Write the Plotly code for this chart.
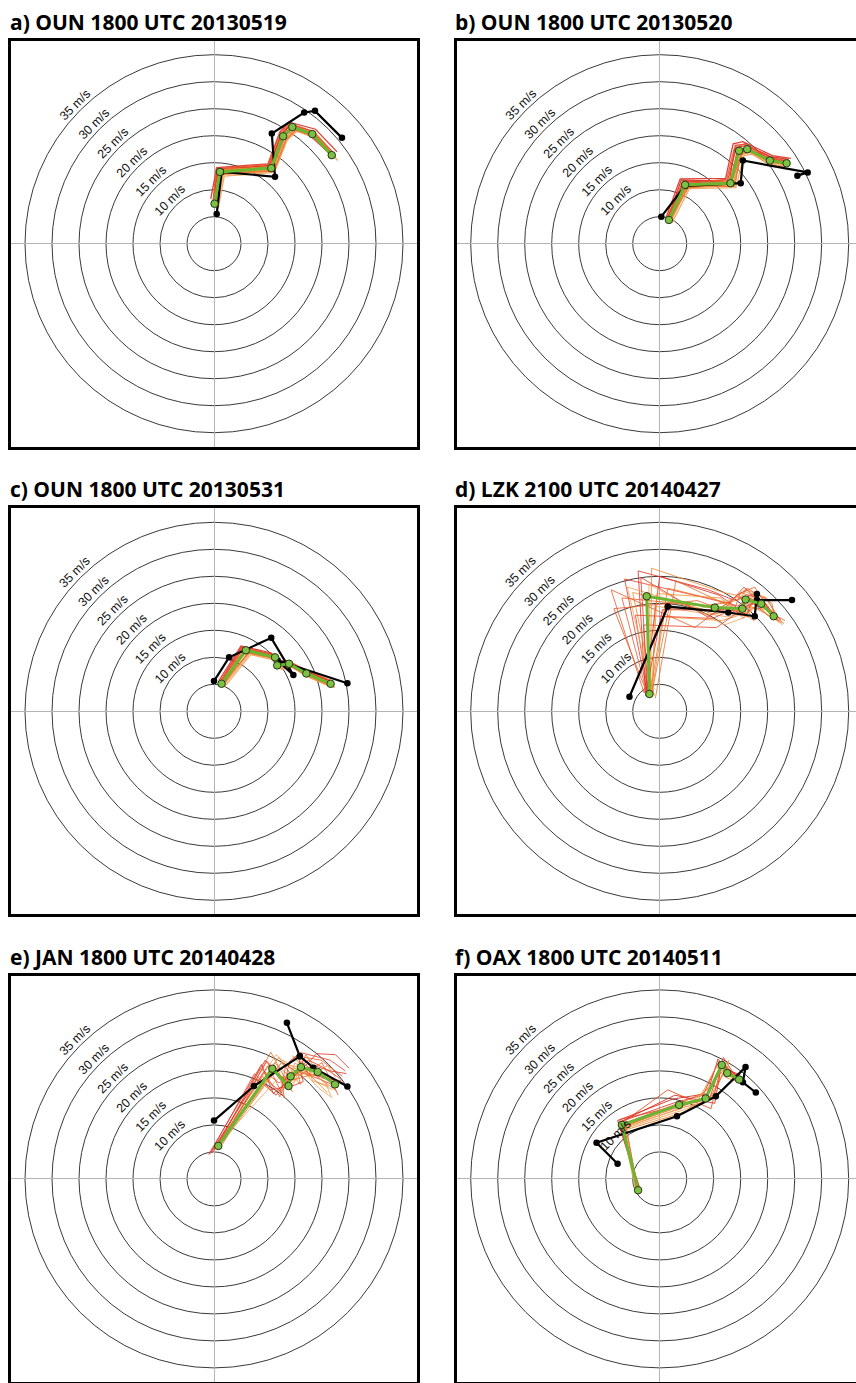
import plotly.graph_objects as go

# ---------------------------------------------------------------------------
# Hodograph data (u, v components in m/s)
# ---------------------------------------------------------------------------
TITLES = [
    "a) OUN 1800 UTC 20130519",
    "b) OUN 1800 UTC 20130520",
    "c) OUN 1800 UTC 20130531",
    "d) LZK 2100 UTC 20140427",
    "e) JAN 1800 UTC 20140428",
    "f) OAX 1800 UTC 20140511",
]

RING_SPEEDS = [5, 10, 15, 20, 25, 30, 35]
RING_LABELS = ["", "10 m/s", "15 m/s", "20 m/s", "25 m/s", "30 m/s", "35 m/s"]

# --- a) OUN 20130519 ---
OBS_A_U = [0.5, 1.4, 11.3, 10.7, 16.7, 18.7, 23.7]
OBS_A_V = [5.5, 13.3, 12.4, 20.4, 24.3, 24.6, 19.6]
MEAN_A_U = [0.1, 1.1, 10.6, 12.8, 14.5, 18.2, 21.8]
MEAN_A_V = [7.4, 13.3, 14.0, 19.9, 21.6, 20.3, 16.4]
MEMBERS_A_U = [
    [-0.3, 0.8, 10.2, 12.5, 14.3, 18.4, 22.3],
    [0.4, 1.5, 10.9, 13.1, 14.9, 18.5, 22.0],
    [-0.1, 0.6, 10.4, 12.4, 14.0, 17.8, 21.4],
    [0.6, 1.7, 11.0, 13.3, 15.0, 18.9, 22.6],
    [0.2, 1.0, 10.7, 12.9, 14.8, 18.0, 21.5],
    [-0.4, 1.3, 10.3, 12.6, 14.2, 18.6, 22.4],
    [0.3, 0.9, 10.8, 13.0, 14.6, 17.9, 21.2],
    [0.0, 1.4, 10.5, 12.7, 14.4, 18.3, 22.1],
    [-0.6, 0.5, 10.0, 12.2, 13.9, 18.8, 22.8],
    [0.8, 1.9, 11.2, 13.5, 15.3, 19.1, 22.9],
    [-0.2, 0.4, 10.1, 12.3, 14.1, 17.6, 21.0],
    [0.5, 1.6, 11.1, 13.4, 15.2, 18.7, 22.5],
]
MEMBERS_A_V = [
    [7.0, 13.6, 14.5, 20.3, 22.1, 20.8, 16.6],
    [7.8, 13.0, 13.6, 19.5, 21.2, 19.8, 15.9],
    [8.1, 13.9, 14.4, 20.2, 21.9, 20.9, 17.0],
    [6.9, 12.8, 13.4, 19.4, 21.1, 19.9, 15.8],
    [7.5, 13.5, 14.3, 20.4, 22.0, 20.4, 16.8],
    [7.3, 13.1, 13.8, 19.6, 21.5, 20.6, 16.2],
    [6.8, 13.4, 14.1, 19.8, 21.4, 19.9, 16.9],
    [7.7, 13.7, 14.2, 20.0, 21.8, 20.7, 16.1],
    [8.3, 14.1, 14.8, 20.7, 22.5, 21.2, 17.0],
    [6.6, 12.5, 13.2, 19.1, 20.8, 19.5, 15.4],
    [7.2, 13.8, 14.7, 20.6, 22.3, 20.6, 17.2],
    [8.0, 12.9, 13.5, 19.3, 21.0, 20.1, 16.0],
]

# --- b) OUN 20130520 ---
OBS_B_U = [0.3, 4.7, 15.0, 15.4, 27.4, 25.5]
OBS_B_V = [5.0, 10.7, 11.2, 15.4, 13.2, 12.6]
MEAN_B_U = [1.7, 4.7, 13.1, 14.7, 16.2, 20.4, 23.5]
MEAN_B_V = [4.4, 10.9, 11.2, 17.2, 17.5, 15.4, 14.9]
MEMBERS_B_U = [
    [1.4, 4.2, 12.6, 14.2, 16.0, 20.8, 24.0],
    [2.0, 5.3, 13.6, 15.2, 16.6, 20.1, 23.2],
    [1.5, 4.0, 12.9, 14.0, 15.7, 20.6, 23.9],
    [2.1, 5.1, 13.4, 15.4, 17.0, 21.0, 23.4],
    [1.6, 4.6, 12.4, 13.8, 15.9, 19.8, 23.0],
    [1.9, 4.9, 13.9, 15.0, 16.4, 20.5, 24.1],
    [1.3, 4.4, 13.2, 14.5, 16.1, 20.9, 23.6],
    [1.8, 5.0, 12.8, 15.1, 16.8, 20.2, 23.3],
    [1.2, 3.8, 12.2, 13.6, 15.4, 20.9, 24.3],
    [2.3, 5.5, 14.1, 15.6, 17.2, 21.2, 23.1],
    [1.1, 4.3, 13.0, 14.4, 16.3, 19.7, 22.8],
    [2.2, 5.2, 13.3, 15.3, 16.9, 21.3, 24.2],
]
MEMBERS_B_V = [
    [4.0, 11.4, 11.8, 17.9, 18.1, 15.9, 15.3],
    [4.8, 10.4, 10.7, 16.6, 16.9, 14.8, 14.3],
    [4.7, 11.8, 11.5, 18.2, 18.4, 16.1, 15.6],
    [4.1, 10.5, 10.9, 16.8, 17.0, 15.0, 14.6],
    [4.6, 11.1, 11.9, 17.6, 18.6, 15.9, 15.4],
    [4.2, 10.8, 10.6, 16.9, 17.3, 15.1, 14.5],
    [4.4, 11.5, 11.3, 17.5, 17.7, 15.6, 15.1],
    [4.5, 10.6, 11.6, 16.5, 17.0, 15.2, 14.8],
    [4.9, 12.0, 12.1, 18.5, 18.9, 16.3, 15.8],
    [3.9, 10.2, 10.4, 16.3, 16.6, 14.6, 14.1],
    [4.3, 11.2, 11.0, 17.4, 17.8, 15.7, 15.0],
    [4.9, 10.3, 11.4, 17.0, 17.2, 15.3, 14.9],
]

# --- c) OUN 20130531 ---
OBS_C_U = [0.0, 2.8, 10.6, 14.7, 11.8, 24.7]
OBS_C_V = [5.6, 10.0, 13.6, 6.7, 9.4, 5.2]
MEAN_C_U = [1.4, 5.9, 11.3, 11.7, 13.9, 17.1, 21.6]
MEAN_C_V = [5.1, 11.3, 10.0, 8.5, 8.8, 7.0, 5.1]
MEMBERS_C_U = [
    [1.2, 5.4, 11.0, 11.4, 13.6, 17.4, 22.0],
    [1.7, 6.3, 11.7, 12.1, 14.3, 16.9, 21.3],
    [1.0, 5.1, 10.9, 11.3, 13.5, 16.8, 21.2],
    [1.8, 6.6, 11.8, 12.2, 14.4, 17.6, 22.3],
    [1.5, 5.7, 11.5, 11.9, 14.0, 17.3, 21.8],
    [1.1, 6.0, 11.1, 11.5, 13.8, 16.7, 21.5],
    [1.6, 5.6, 10.8, 11.6, 13.7, 17.5, 21.9],
    [1.3, 6.2, 11.6, 12.0, 14.1, 17.0, 21.4],
    [0.9, 5.0, 10.6, 11.1, 13.3, 16.6, 21.0],
    [1.9, 6.8, 12.0, 12.4, 14.6, 17.8, 22.4],
    [1.4, 5.3, 11.4, 11.8, 13.9, 17.2, 21.7],
    [1.2, 6.4, 11.2, 11.6, 13.8, 16.9, 21.6],
]
MEMBERS_C_V = [
    [5.4, 11.6, 10.5, 8.9, 9.2, 7.4, 5.4],
    [4.8, 10.9, 9.6, 8.0, 8.4, 6.6, 4.7],
    [5.3, 11.9, 10.4, 8.8, 9.0, 7.3, 5.6],
    [4.9, 10.7, 9.5, 8.1, 8.3, 6.5, 4.6],
    [4.6, 11.0, 10.2, 8.6, 8.6, 6.8, 4.9],
    [5.6, 11.7, 9.8, 8.3, 9.1, 7.2, 5.3],
    [5.0, 11.2, 10.6, 9.0, 8.7, 6.7, 5.0],
    [5.2, 11.4, 9.7, 8.2, 8.9, 7.1, 5.5],
    [5.7, 12.1, 10.8, 9.2, 9.4, 7.6, 5.8],
    [4.5, 10.5, 9.3, 7.8, 8.1, 6.3, 4.4],
    [5.5, 11.8, 10.3, 8.7, 9.3, 7.5, 5.7],
    [4.7, 10.8, 9.9, 8.4, 8.5, 6.9, 4.8],
]

# --- d) LZK 20140427 ---
OBS_D_U = [-5.6, 1.5, 12.7, 17.6, 18.0, 18.0, 24.5]
OBS_D_V = [2.7, 19.4, 18.3, 17.6, 21.7, 20.6, 20.6]
MEAN_D_U = [-1.9, -2.4, 10.2, 15.3, 15.9, 18.8, 21.1]
MEAN_D_V = [3.2, 21.3, 19.2, 19.0, 20.7, 19.9, 17.6]
MEMBERS_D_U = [
    [-2.2, -6.5, 8.5, 14.5, 16.8, 19.5, 21.5],
    [-1.5, 0.8, 11.5, 16.0, 15.2, 18.0, 22.0],
    [-2.6, -4.0, 9.0, 14.0, 17.5, 20.0, 20.8],
    [-1.2, -1.0, 12.5, 17.0, 16.5, 19.0, 22.5],
    [-2.0, -8.5, 7.0, 13.5, 15.0, 18.5, 21.0],
    [-1.8, 1.5, 13.0, 15.5, 17.0, 20.5, 23.0],
    [-2.4, -3.0, 10.5, 16.5, 14.5, 17.5, 20.5],
    [-1.0, -5.0, 9.5, 15.0, 16.0, 19.8, 21.8],
    [-2.8, 0.0, 11.0, 14.8, 17.8, 18.2, 20.0],
    [-1.6, -2.0, 12.0, 16.8, 15.5, 19.2, 22.8],
    [-2.3, -7.0, 8.0, 13.0, 16.2, 20.8, 21.2],
    [-1.4, 2.0, 10.0, 15.8, 17.2, 18.6, 21.6],
    [-2.1, -4.5, 9.8, 15.2, 16.6, 19.6, 22.2],
    [-1.7, -1.5, 11.8, 14.2, 15.8, 17.8, 20.6],
    [-2.5, 0.5, 12.8, 16.2, 16.9, 20.2, 22.4],
    [-1.3, -6.0, 7.5, 13.8, 15.4, 18.9, 21.0],
    [-2.9, -9.0, 6.5, 14.8, 17.6, 20.6, 23.2],
    [-0.8, 3.0, 13.5, 17.5, 16.0, 19.4, 21.4],
    [-2.2, -3.5, 8.8, 12.5, 15.6, 17.2, 20.2],
    [-1.5, -0.5, 11.2, 15.6, 18.2, 19.9, 22.6],
]
MEMBERS_D_V = [
    [3.0, 24.5, 21.0, 19.5, 21.5, 20.2, 17.0],
    [3.5, 17.5, 16.8, 18.2, 20.0, 19.0, 16.8],
    [2.8, 26.0, 22.5, 20.5, 21.8, 19.5, 18.0],
    [3.6, 19.5, 17.5, 18.5, 20.9, 19.6, 16.5],
    [2.5, 19.0, 20.5, 18.0, 22.0, 20.8, 18.2],
    [3.3, 22.8, 20.0, 17.2, 19.2, 18.8, 16.2],
    [3.9, 16.0, 15.5, 19.8, 21.2, 20.5, 18.5],
    [2.9, 22.0, 18.5, 21.0, 22.5, 21.0, 17.3],
    [3.4, 25.0, 21.5, 18.8, 20.2, 19.2, 17.8],
    [2.6, 23.5, 16.0, 17.8, 19.5, 18.5, 16.0],
    [3.1, 21.0, 19.5, 20.2, 22.8, 20.0, 17.5],
    [3.7, 20.5, 18.0, 19.0, 20.5, 19.8, 17.2],
    [3.2, 17.8, 17.2, 19.6, 21.0, 19.4, 16.6],
    [2.7, 26.5, 22.0, 21.5, 22.2, 21.2, 18.6],
    [3.8, 18.8, 18.8, 18.0, 20.0, 19.0, 17.0],
    [3.0, 23.0, 19.0, 20.8, 21.4, 20.6, 17.9],
    [3.4, 22.5, 15.5, 21.8, 23.0, 18.2, 16.8],
    [2.4, 24.2, 19.2, 16.8, 19.0, 21.2, 18.4],
    [4.0, 24.8, 17.5, 19.5, 23.0, 21.6, 18.8],
    [3.1, 21.8, 21.0, 17.6, 19.8, 17.8, 16.4],
]

# --- e) JAN 20140428 ---
OBS_E_U = [0.0, 7.4, 15.9, 13.5, 15.9, 18.4, 24.7]
OBS_E_V = [10.8, 17.2, 22.7, 28.9, 22.7, 20.6, 17.1]
MEAN_E_U = [0.8, 10.8, 13.8, 14.2, 16.1, 19.2, 22.4]
MEAN_E_V = [6.1, 20.4, 17.2, 19.0, 20.7, 19.8, 17.5]
MEMBERS_E_U = [
    [0.2, 9.0, 12.5, 15.0, 17.5, 20.5, 23.5],
    [1.4, 12.0, 14.8, 13.5, 15.0, 18.0, 21.0],
    [-0.5, 8.0, 11.5, 14.5, 18.5, 21.5, 24.5],
    [1.0, 11.5, 15.5, 16.0, 14.5, 19.0, 22.0],
    [0.5, 10.0, 13.0, 12.5, 16.5, 20.0, 23.0],
    [1.8, 12.5, 16.0, 15.5, 17.0, 18.5, 21.5],
    [-0.8, 7.5, 10.5, 13.0, 15.5, 19.5, 23.0],
    [0.9, 11.0, 14.0, 14.8, 18.0, 21.0, 22.5],
    [0.0, 9.5, 13.5, 16.5, 15.8, 17.5, 24.0],
    [1.2, 12.2, 15.0, 13.8, 17.2, 20.8, 21.8],
    [0.4, 8.5, 12.0, 15.2, 16.8, 19.8, 23.8],
    [1.6, 10.5, 14.5, 12.8, 15.2, 18.8, 22.8],
    [-0.3, 9.8, 13.2, 14.0, 16.0, 21.5, 24.3],
    [0.7, 11.8, 12.8, 15.8, 17.8, 18.2, 21.2],
    [-1.0, 8.8, 11.0, 16.8, 19.0, 22.5, 25.0],
    [1.5, 12.8, 15.8, 14.6, 16.4, 19.4, 21.6],
    [0.3, 9.2, 12.2, 13.2, 15.0, 20.2, 23.6],
    [1.1, 11.2, 14.2, 15.0, 17.6, 17.8, 22.0],
]
MEMBERS_E_V = [
    [5.5, 19.0, 16.0, 20.0, 22.0, 20.5, 18.5],
    [6.6, 22.5, 18.5, 17.8, 21.5, 19.0, 16.0],
    [5.0, 18.5, 15.5, 19.5, 21.0, 20.0, 19.5],
    [6.8, 23.0, 19.5, 21.5, 22.8, 18.0, 16.5],
    [5.8, 21.0, 15.0, 18.5, 19.5, 21.5, 15.5],
    [7.0, 21.5, 17.5, 19.8, 23.0, 20.8, 18.0],
    [4.6, 19.5, 16.5, 17.0, 20.0, 18.5, 17.0],
    [6.2, 20.0, 18.0, 20.5, 18.8, 21.0, 18.8],
    [5.3, 22.0, 16.8, 18.0, 21.8, 19.5, 17.8],
    [6.9, 19.0, 19.0, 21.0, 20.5, 17.5, 15.0],
    [5.7, 20.5, 17.8, 19.2, 22.5, 22.0, 19.0],
    [6.4, 23.5, 16.2, 18.2, 19.8, 19.2, 16.2],
    [4.9, 21.8, 18.2, 21.8, 23.4, 22.0, 20.0],
    [6.0, 20.8, 17.0, 19.0, 20.8, 18.2, 17.2],
    [4.5, 21.2, 15.8, 20.8, 23.2, 23.0, 20.5],
    [7.2, 22.0, 20.0, 17.5, 20.0, 16.8, 15.2],
    [5.6, 19.8, 15.2, 20.6, 22.6, 18.6, 18.2],
    [6.5, 21.5, 18.8, 18.4, 19.2, 20.6, 17.8],
]

# --- f) OAX 20140511 ---
OBS_F_U = [-7.8, -11.7, 3.2, 10.4, 15.9, 15.4, 17.8]
OBS_F_V = [2.8, 6.7, 11.6, 15.3, 20.7, 17.9, 16.0]
MEAN_F_U = [-4.0, -7.0, 3.6, 8.5, 11.5, 12.5, 14.7]
MEAN_F_V = [-2.1, 10.0, 13.7, 14.9, 21.1, 19.6, 18.4]
MEMBERS_F_U = [
    [-3.6, -7.5, 3.0, 8.0, 11.0, 12.8, 15.2],
    [-4.4, -6.5, 4.2, 9.0, 12.2, 13.0, 14.2],
    [-3.8, -7.8, 2.5, 8.8, 10.8, 12.0, 15.0],
    [-4.2, -6.8, 4.5, 7.8, 12.0, 13.2, 14.8],
    [-3.9, -7.2, 1.5, 9.5, 11.2, 12.4, 14.0],
    [-4.1, -6.2, 3.8, 8.2, 12.5, 11.8, 15.5],
    [-3.7, -7.4, 3.4, 9.2, 11.8, 13.5, 14.5],
    [-4.3, -6.6, 5.0, 7.5, 10.5, 12.2, 15.8],
    [-3.5, -7.6, 2.8, 10.2, 11.5, 13.0, 14.3],
    [-4.5, -6.9, 4.0, 8.6, 12.8, 12.6, 15.0],
    [-3.8, -7.1, 3.2, 8.4, 11.4, 12.9, 14.6],
    [-4.0, -6.4, 4.4, 9.8, 12.3, 12.1, 14.9],
]
MEMBERS_F_V = [
    [-2.5, 10.5, 14.2, 15.5, 21.8, 20.0, 18.8],
    [-1.8, 9.5, 13.2, 14.4, 20.5, 19.2, 18.0],
    [-2.0, 10.8, 14.8, 15.8, 22.2, 20.5, 19.2],
    [-2.4, 9.2, 12.8, 14.2, 21.5, 19.0, 17.8],
    [-1.6, 10.2, 16.5, 13.0, 20.2, 20.8, 18.6],
    [-2.2, 9.8, 14.0, 16.0, 21.0, 19.5, 18.2],
    [-2.6, 11.0, 13.5, 14.8, 22.5, 19.8, 19.0],
    [-1.9, 9.0, 12.5, 15.2, 20.8, 18.8, 17.5],
    [-2.3, 10.4, 15.5, 14.0, 21.4, 20.2, 18.9],
    [-2.0, 9.6, 13.0, 16.2, 22.0, 19.4, 18.1],
    [-2.7, 10.1, 13.9, 14.6, 21.2, 19.9, 18.5],
    [-1.7, 9.9, 13.6, 15.4, 20.6, 19.3, 18.3],
]

PANELS = [
    (OBS_A_U, OBS_A_V, MEAN_A_U, MEAN_A_V, MEMBERS_A_U, MEMBERS_A_V),
    (OBS_B_U, OBS_B_V, MEAN_B_U, MEAN_B_V, MEMBERS_B_U, MEMBERS_B_V),
    (OBS_C_U, OBS_C_V, MEAN_C_U, MEAN_C_V, MEMBERS_C_U, MEMBERS_C_V),
    (OBS_D_U, OBS_D_V, MEAN_D_U, MEAN_D_V, MEMBERS_D_U, MEMBERS_D_V),
    (OBS_E_U, OBS_E_V, MEAN_E_U, MEAN_E_V, MEMBERS_E_U, MEMBERS_E_V),
    (OBS_F_U, OBS_F_V, MEAN_F_U, MEAN_F_V, MEMBERS_F_U, MEMBERS_F_V),
]
# thin-line width for the ensemble members of each panel
MEMBER_WIDTH = [1.3, 1.3, 1.3, 0.9, 0.9, 1.0]

# ---------------------------------------------------------------------------
# Page geometry (pixels) and styling
# ---------------------------------------------------------------------------
W, H = 856, 1383
PX_PER_MS = 5.4          # pixels per m/s, identical on both axes
BOX = 406.0              # inner size of each hodograph frame
COL_LEFT = [11.0, 456.7]
ROW_TOP = [40.7, 508.3, 975.9]
TITLE_X = [8.0, 453.0]
TITLE_Y = [21.5, 489.1, 956.7]

MEMBER_COLORS = ["#e8402a", "#f08a2c", "#dc3024", "#f4a259", "#ea5a2a", "#e9722e"]
GREEN_LINE = "#6cb530"
GREEN_FILL = "#7cc242"
RING_COLOR = "#3a3a3a"
CROSS_COLOR = "#b4b4b4"

fig = go.Figure()
shapes = []
annotations = []
layout_axes = {}

for i, (obs_u, obs_v, mean_u, mean_v, mem_u, mem_v) in enumerate(PANELS):
    row, col = divmod(i, 2)
    left = COL_LEFT[col]
    right = min(left + BOX, W)
    top = ROW_TOP[row]
    bottom = min(top + BOX, H)
    cx = left + BOX / 2
    cy = top + BOX / 2

    sfx = "" if i == 0 else str(i + 1)
    xname, yname = "x" + sfx, "y" + sfx

    layout_axes["xaxis" + sfx] = dict(
        domain=[left / W, right / W],
        range=[(left - cx) / PX_PER_MS, (right - cx) / PX_PER_MS],
        anchor=yname, showticklabels=False, ticks="", showgrid=False,
        zeroline=True, zerolinecolor=CROSS_COLOR, zerolinewidth=1.3,
        showline=True, linecolor="black", linewidth=3.4, mirror=True,
        fixedrange=True,
    )
    layout_axes["yaxis" + sfx] = dict(
        domain=[1 - bottom / H, 1 - top / H],
        range=[(cy - bottom) / PX_PER_MS, (cy - top) / PX_PER_MS],
        anchor=xname, showticklabels=False, ticks="", showgrid=False,
        zeroline=True, zerolinecolor=CROSS_COLOR, zerolinewidth=1.3,
        showline=True, linecolor="black", linewidth=3.4,
        mirror=(col == 0), fixedrange=True,
    )

    # speed rings
    for spd, lab in zip(RING_SPEEDS, RING_LABELS):
        shapes.append(dict(
            type="circle", xref=xname, yref=yname,
            x0=-spd, x1=spd, y0=-spd, y1=spd,
            line=dict(color=RING_COLOR, width=1), layer="below",
        ))
        if lab:
            rl = (spd + 1.45) * 0.70710678
            annotations.append(dict(
                x=-rl, y=rl, xref=xname, yref=yname, text=lab,
                showarrow=False, textangle=-45,
                font=dict(family="Liberation Sans, Arial", size=12.5, color="#111"),
                xanchor="center", yanchor="middle",
            ))

    # ensemble members
    for k, (mu, mv) in enumerate(zip(mem_u, mem_v)):
        fig.add_trace(go.Scatter(
            x=mu, y=mv, mode="lines", xaxis=xname, yaxis=yname,
            line=dict(color=MEMBER_COLORS[k % len(MEMBER_COLORS)], width=MEMBER_WIDTH[i]),
            opacity=0.9, showlegend=False, hoverinfo="skip",
        ))

    # observed sounding
    fig.add_trace(go.Scatter(
        x=obs_u, y=obs_v, mode="lines+markers", xaxis=xname, yaxis=yname,
        line=dict(color="black", width=2.2),
        marker=dict(color="black", size=6.5),
        showlegend=False, hoverinfo="skip",
    ))

    # ensemble mean
    fig.add_trace(go.Scatter(
        x=mean_u, y=mean_v, mode="lines+markers", xaxis=xname, yaxis=yname,
        line=dict(color=GREEN_LINE, width=3),
        marker=dict(color=GREEN_FILL, size=7.5, line=dict(color="#26361a", width=1)),
        showlegend=False, hoverinfo="skip",
    ))

    annotations.append(dict(
        x=TITLE_X[col] / W, y=1 - TITLE_Y[row] / H, xref="paper", yref="paper",
        text="<b>" + TITLES[i] + "</b>", showarrow=False,
        xanchor="left", yanchor="middle",
        font=dict(family="Open Sans", size=21, color="black"),
    ))

fig.update_layout(
    width=W, height=H,
    margin=dict(l=0, r=0, t=0, b=0, pad=0),
    paper_bgcolor="white", plot_bgcolor="white",
    shapes=shapes, annotations=annotations,
    showlegend=False,
    **layout_axes,
)

fig.write_html("out.html", config={"displayModeBar": False})
